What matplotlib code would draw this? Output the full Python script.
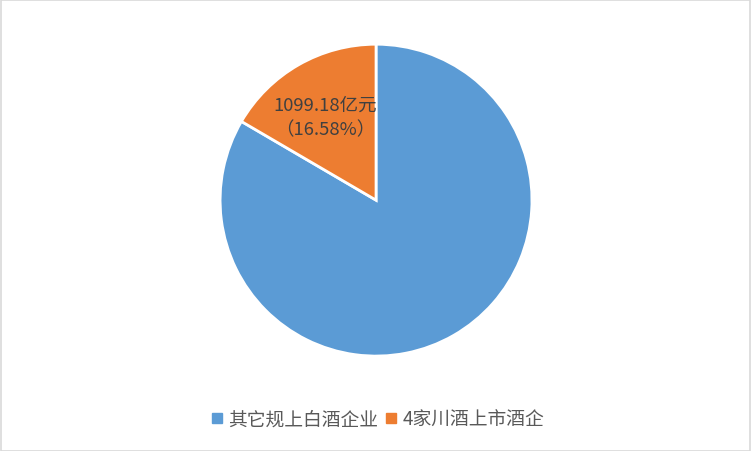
import matplotlib
matplotlib.use("Agg")
import matplotlib.pyplot as plt
from matplotlib.patches import Rectangle
from matplotlib.lines import Line2D

plt.rcParams['font.family'] = ['Noto Sans CJK SC', 'DejaVu Sans']

categories = ['其它规上白酒企业', '4家川酒上市酒企']
values = [5530.37, 1099.18]
colors = ['#5B9BD5', '#ED7D31']
label_text = '1099.18亿元\n（16.58%）'

fig = plt.figure(figsize=(7.52, 4.52), dpi=100)
fig.patches.append(Rectangle((0.001, 0.001), 0.997, 0.997, transform=fig.transFigure,
                             fill=False, edgecolor='#D9D9D9', linewidth=1.2))
ax = fig.add_axes([0.2926, 0.210, 0.4149, 0.690])
wedges, _ = ax.pie(values, colors=colors, startangle=90, counterclock=False,
                   wedgeprops=dict(edgecolor='white', linewidth=2))
ax.set_aspect('equal')
ax.set_xlim(-1, 1)
ax.set_ylim(-1, 1)

# data label for orange slice
fig.text(325/752, 1 - 118/452, label_text, ha='center', va='center',
         fontsize=13.3, color='#404040', linespacing=1.5)

handles = [Line2D([0], [0], marker='s', linestyle='', markersize=7,
                  markerfacecolor=c, markeredgecolor=c) for c in colors]
fig.legend(handles, categories, loc='center', bbox_to_anchor=(0.5, 1 - 420/452),
           ncol=2, frameon=False, fontsize=13.5, labelcolor='#595959',
           handletextpad=0.1, columnspacing=0.2, handlelength=1.0)

fig.savefig('out.png', dpi=100)
